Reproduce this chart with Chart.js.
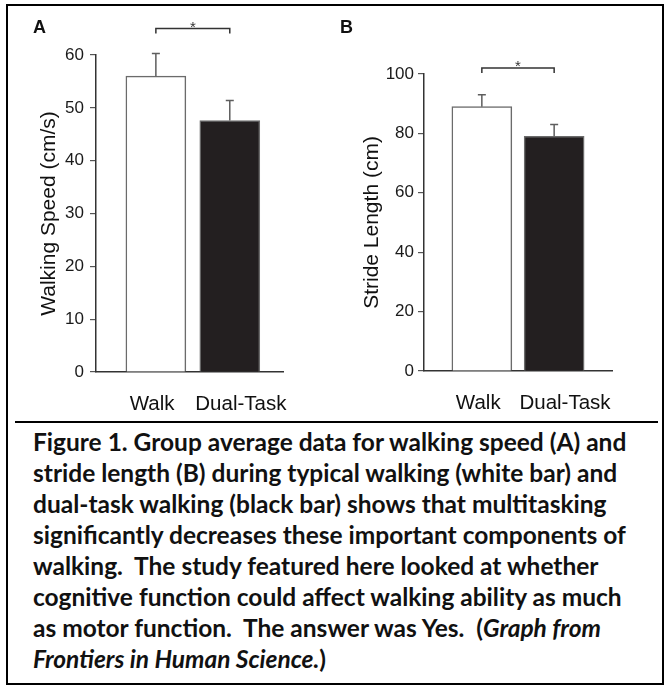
<!DOCTYPE html>
<html>
<head>
<meta charset="utf-8">
<script src="https://cdn.jsdelivr.net/npm/chart.js@4.4.1/dist/chart.umd.min.js"></script>
<style>
  html, body { margin: 0; padding: 0; background: #fff; }
  body { width: 672px; height: 688px; position: relative; overflow: hidden; }
  #frame { position: absolute; left: 6px; top: 4px; width: 654px; height: 677px; border: 2px solid #000; }
  #rule { position: absolute; left: 15px; top: 421px; width: 643px; height: 0; border-top: 2px solid #000; }
  canvas { position: absolute; top: 0; }
  #panelA { left: 0; }
  #panelB { left: 336px; }
  #caption { position: absolute; left: 33px; top: 426px; font: 700 24.5px Lato, sans-serif;
             line-height: 31px; color: #111; white-space: nowrap; }
</style>
</head>
<body>
<div id="frame"></div>
<canvas id="panelA" width="336" height="420"></canvas>
<canvas id="panelB" width="336" height="420"></canvas>
<div id="rule"></div>
<div id="caption">
Figure 1. Group average data for walking speed (A) and<br>
stride length (B) during typical walking (white bar) and<br>
dual-task walking (black bar) shows that multitasking<br>
significantly decreases these important components of<br>
walking.&nbsp; The study featured here looked at whether<br>
cognitive function could affect walking ability as much<br>
as motor function.&nbsp; The answer was Yes.&nbsp; (<i>Graph from</i><br>
<i>Frontiers in Human Science.</i>)
</div>
<script>
// data
const categories = ["Walk", "Dual-Task"];
const speedMeans = [56, 47.6];
const speedErrors = [4.3, 3.8];
const speedTicks = [0, 10, 20, 30, 40, 50, 60];
const strideMeans = [89, 79];
const strideErrors = [4, 4];
const strideTicks = [0, 20, 40, 60, 80, 100];

// look
const FONT = '"Liberation Sans", Arial, sans-serif';
const barFills = ["#ffffff", "#231f20"];
const LABEL_POS = [0.95, 2.15]; // where the category names sit on the x axis

// error bars, significance bracket and panel letter
const extras = {
  id: "extras",
  afterDatasetsDraw(chart, args, o) {
    const ctx = chart.ctx;
    const meta = chart.getDatasetMeta(0);
    const y = chart.scales.y;
    ctx.save();
    ctx.strokeStyle = "#5e5e5e";
    ctx.lineWidth = 1.5;
    meta.data.forEach((bar, i) => {
      const top = y.getPixelForValue(o.means[i] + o.errors[i]);
      ctx.beginPath();
      ctx.moveTo(bar.x, bar.y);
      ctx.lineTo(bar.x, top);
      ctx.moveTo(bar.x - 4, top);
      ctx.lineTo(bar.x + 4, top);
      ctx.stroke();
    });

    const by = y.getPixelForValue(o.bracketAt);
    const x0 = meta.data[0].x, x1 = meta.data[1].x;
    ctx.strokeStyle = "#333";
    ctx.beginPath();
    ctx.moveTo(x0, by + 5);
    ctx.lineTo(x0, by);
    ctx.lineTo(x1, by);
    ctx.lineTo(x1, by + 5);
    ctx.stroke();
    ctx.fillStyle = "#333";
    ctx.font = "15px " + FONT;
    ctx.textAlign = "center";
    ctx.textBaseline = "alphabetic";
    ctx.fillText("*", (x0 + x1) / 2, by + 3);

    ctx.fillStyle = "#111";
    ctx.font = "bold 18px " + FONT;
    ctx.textAlign = "left";
    ctx.fillText(o.letter, o.letterX, 33);
    ctx.restore();
  }
};

function makePanel(id, cfg) {
  return new Chart(document.getElementById(id), {
    type: "bar",
    data: {
      datasets: [{
        data: cfg.means.map((v, i) => ({ x: i + 1, y: v })),
        backgroundColor: barFills,
        borderColor: "#6b6b6b",
        borderWidth: 1.5,
        barThickness: 60
      }]
    },
    plugins: [extras],
    options: {
      responsive: false,
      animation: false,
      layout: { padding: cfg.padding },
      plugins: {
        legend: { display: false },
        tooltip: { enabled: false },
        extras: { means: cfg.means, errors: cfg.errors, bracketAt: cfg.bracketAt, letter: cfg.letter, letterX: cfg.letterX }
      },
      scales: {
        x: {
          type: "linear",
          offset: false,
          min: cfg.xMin,
          max: cfg.xMax,
          afterBuildTicks: s => { s.ticks = LABEL_POS.map(v => ({ value: v })); },
          afterFit: s => { s.height = cfg.xHeight; },
          grid: { display: false, drawTicks: false },
          border: { color: "#333", width: 1.5 },
          ticks: {
            autoSkip: false, maxRotation: 0, padding: 20, color: "#111",
            font: { family: FONT, size: 20.5 },
            callback: (v, i) => categories[i]
          }
        },
        y: {
          min: cfg.ticks[0],
          max: cfg.ticks[cfg.ticks.length - 1],
          afterBuildTicks: s => { s.ticks = cfg.ticks.map(v => ({ value: v })); },
          afterFit: s => { s.width = cfg.yWidth; },
          grid: { drawOnChartArea: false, drawTicks: true, tickLength: 6, color: "#555", lineWidth: 1.2 },
          border: { color: "#333", width: 1.5 },
          ticks: { padding: cfg.tickPad, color: "#1a1a1a", font: { family: FONT, size: 17 } },
          title: {
            display: true, text: cfg.title, color: "#111",
            font: { family: FONT, size: 21 }, padding: { top: 7, bottom: 0 }
          }
        }
      }
    }
  });
}

makePanel("panelA", {
  means: speedMeans, errors: speedErrors, ticks: speedTicks,
  title: "Walking Speed (cm/s)", letter: "A", letterX: 33, bracketAt: 65,
  padding: { left: 30, top: 55, right: 53, bottom: 0 },
  yWidth: 66, xHeight: 48, xMin: 0.19, xMax: 2.72, tickPad: 6
});

makePanel("panelB", {
  means: strideMeans, errors: strideErrors, ticks: strideTicks,
  title: "Stride Length (cm)", letter: "B", letterX: 4, bracketAt: 102,
  padding: { left: 17, top: 74, right: 60, bottom: 0 },
  yWidth: 71, xHeight: 49, xMin: 0.2, xMax: 2.8, tickPad: 4
});
</script>
</body>
</html>
